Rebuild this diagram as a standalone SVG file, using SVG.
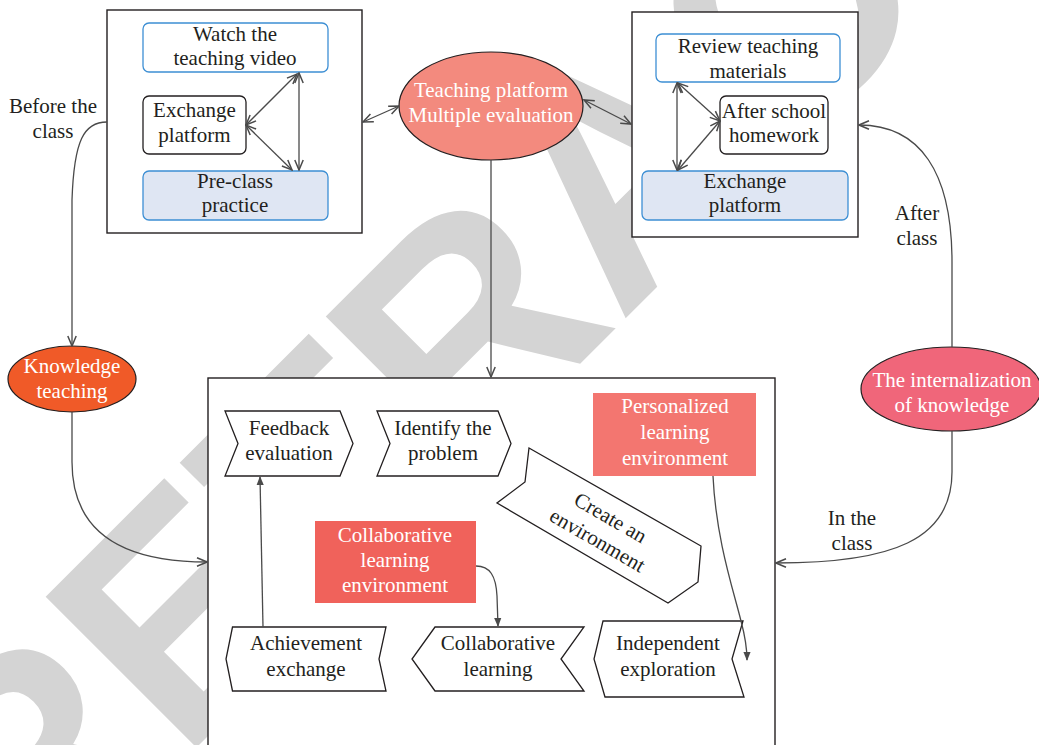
<svg xmlns="http://www.w3.org/2000/svg" width="1039" height="745" viewBox="0 0 1039 745">
  <style>
    .t { font-family: "Liberation Serif", "Times New Roman", serif; font-size: 21px; fill: #231f20; text-anchor: middle; }
    .w { fill: #ffffff; }
    .frame { fill: #ffffff; stroke: #231f20; stroke-width: 1.4; }
    .blue { fill: #ffffff; stroke: #3d8fd4; stroke-width: 1.3; }
    .bluefill { fill: #dfe6f3; stroke: #3d8fd4; stroke-width: 1.3; }
    .plain { fill: #ffffff; stroke: #231f20; stroke-width: 1.3; }
    .chev { fill: #ffffff; stroke: #231f20; stroke-width: 1.3; stroke-linejoin: miter; }
    .edge { fill: none; stroke: #4a4a4a; stroke-width: 1.3; }
    .mark { font-family: "Liberation Sans", Arial, sans-serif; font-weight: bold; font-size: 310px; fill: #d4d4d4; }
  </style>
  <defs>
    <marker id="open" viewBox="0 0 12 12" refX="11" refY="6" markerWidth="12" markerHeight="12" markerUnits="userSpaceOnUse" orient="auto-start-reverse">
      <path d="M1,1.8 L11,6 L1,10.2" fill="none" stroke="#4a4a4a" stroke-width="1.5"/>
    </marker>
    <marker id="solid" viewBox="0 0 10 10" refX="9" refY="5" markerWidth="9" markerHeight="9" markerUnits="userSpaceOnUse" orient="auto">
      <path d="M0,1 L10,5 L0,9 Z" fill="#4a4a4a"/>
    </marker>
  </defs>

  <!-- background stamp -->
  <text class="mark" transform="translate(23.5,920.5) rotate(-45)">RETRACTED</text>

  <!-- pre-class panel -->
  <g id="panel-before">
    <rect class="frame" x="107" y="10" width="255" height="223"/>
  </g>
  <g id="watch-video">
    <rect class="blue" x="143" y="23" width="185" height="49" rx="6"/>
    <text class="t" x="235" y="41">Watch the</text>
    <text class="t" x="235" y="65">teaching video</text>
  </g>
  <g id="exchange-before">
    <rect class="plain" x="143" y="96" width="103" height="58" rx="6"/>
    <text class="t" x="194.5" y="117">Exchange</text>
    <text class="t" x="194.5" y="142">platform</text>
  </g>
  <g id="preclass-practice">
    <rect class="bluefill" x="143" y="171" width="185" height="49" rx="6"/>
    <text class="t" x="235" y="188">Pre-class</text>
    <text class="t" x="235" y="212">practice</text>
  </g>

  <!-- after-class panel -->
  <g id="panel-after">
    <rect class="frame" x="632" y="12" width="226" height="225"/>
  </g>
  <g id="review-materials">
    <rect class="blue" x="656" y="34" width="184" height="48" rx="6"/>
    <text class="t" x="748" y="53">Review teaching</text>
    <text class="t" x="748" y="78">materials</text>
  </g>
  <g id="homework">
    <rect class="plain" x="720" y="96" width="108" height="58" rx="6"/>
    <text class="t" x="774" y="118">After school</text>
    <text class="t" x="774" y="142">homework</text>
  </g>
  <g id="exchange-after">
    <rect class="bluefill" x="642" y="171" width="206" height="49" rx="6"/>
    <text class="t" x="745" y="188">Exchange</text>
    <text class="t" x="745" y="212">platform</text>
  </g>

  <!-- central hub -->
  <g id="platform-evaluation">
    <ellipse cx="491" cy="106" rx="92" ry="54" fill="#f38a7e" stroke="#231f20" stroke-width="1.2"/>
    <text class="t w" x="491" y="97">Teaching platform</text>
    <text class="t w" x="491" y="122">Multiple evaluation</text>
  </g>

  <g id="knowledge-teaching">
    <ellipse cx="72" cy="379" rx="64" ry="33" fill="#f05a28" stroke="#231f20" stroke-width="1.2"/>
    <text class="t w" x="72" y="373">Knowledge</text>
    <text class="t w" x="72" y="398">teaching</text>
  </g>

  <g id="internalization">
    <ellipse cx="951" cy="389" rx="90" ry="42" fill="#f0667a" stroke="#231f20" stroke-width="1.2"/>
    <text class="t w" x="952" y="387">The internalization</text>
    <text class="t w" x="952" y="412">of knowledge</text>
  </g>

  <!-- classroom panel -->
  <g id="panel-class">
    <rect class="frame" x="208" y="378" width="567" height="380"/>
  </g>
  <g id="feedback-evaluation">
    <polygon class="chev" points="225,411 340,411 353,443.5 340,476 225,476 238,443.5"/>
    <text class="t" x="289" y="435">Feedback</text>
    <text class="t" x="289" y="460">evaluation</text>
  </g>
  <g id="identify-problem">
    <polygon class="chev" points="377,411 498,411 511,443.5 498,476 377,476 390,443.5"/>
    <text class="t" x="443" y="435">Identify the</text>
    <text class="t" x="443" y="460">problem</text>
  </g>
  <g id="create-environment">
    <polygon class="chev" points="529,448 701,546 698,582 668,603 497,503 525,482"/>
    <g transform="translate(604,529) rotate(30)">
      <text class="t" x="0" y="-6">Create an</text>
      <text class="t" x="0" y="20">environment</text>
    </g>
  </g>
  <g id="personalized-environment">
    <rect x="593" y="393" width="163" height="83" fill="#f37670"/>
    <text class="t w" x="675" y="413">Personalized</text>
    <text class="t w" x="675" y="439">learning</text>
    <text class="t w" x="675" y="465">environment</text>
  </g>
  <g id="collaborative-environment">
    <rect x="315" y="521" width="161" height="82" fill="#f0625b"/>
    <text class="t w" x="395" y="542">Collaborative</text>
    <text class="t w" x="395" y="567">learning</text>
    <text class="t w" x="395" y="592">environment</text>
  </g>
  <g id="achievement-exchange">
    <polygon class="chev" points="232.5,627 386,627 379,659 386,691 232.5,691 226,659"/>
    <text class="t" x="306" y="650">Achievement</text>
    <text class="t" x="306" y="676">exchange</text>
  </g>
  <g id="collaborative-learning">
    <polygon class="chev" points="435,627 584,627 561,659 584,691 435,691 412,659"/>
    <text class="t" x="498" y="650">Collaborative</text>
    <text class="t" x="498" y="676">learning</text>
  </g>
  <g id="independent-exploration">
    <polygon class="chev" points="603,621 743,621 732,659 744,697 605,697 594,659"/>
    <text class="t" x="668" y="650">Independent</text>
    <text class="t" x="668" y="676">exploration</text>
  </g>

  <!-- phase labels -->
  <g id="labels">
    <text class="t" x="53" y="113">Before the</text>
    <text class="t" x="53" y="138">class</text>
    <text class="t" x="917" y="220">After</text>
    <text class="t" x="917" y="245">class</text>
    <text class="t" x="852" y="525">In the</text>
    <text class="t" x="852" y="550">class</text>
  </g>

  <!-- connectors -->
  <g id="connectors">
    <path class="edge" d="M246,125 L297,74" marker-start="url(#open)" marker-end="url(#open)"/>
    <path class="edge" d="M246,125 L292,170" marker-start="url(#open)" marker-end="url(#open)"/>
    <path class="edge" d="M299,73 L299,170" marker-start="url(#open)" marker-end="url(#open)"/>
    <path class="edge" d="M677,83 L677,170" marker-start="url(#open)" marker-end="url(#open)"/>
    <path class="edge" d="M678,83 L720,121" marker-start="url(#open)" marker-end="url(#open)"/>
    <path class="edge" d="M720,121 L678,170" marker-start="url(#open)" marker-end="url(#open)"/>
    <path class="edge" d="M363,122 L399,106" marker-start="url(#open)" marker-end="url(#open)"/>
    <path class="edge" d="M584,100 L631,124" marker-start="url(#open)" marker-end="url(#open)"/>
    <path class="edge" d="M491,160 L491,377" marker-end="url(#open)"/>
    <path class="edge" d="M107,122 C84,122 74,140 72,200 L72,346" marker-end="url(#open)"/>
    <path class="edge" d="M72,412 L72,462 C72,530 118,562 207,562" marker-end="url(#open)"/>
    <path class="edge" d="M952,347 L952,262 C952,172 920,125 859,125" marker-end="url(#open)"/>
    <path class="edge" d="M952,431 L952,472 C952,540 892,563 776,563" marker-end="url(#open)"/>
    <path class="edge" d="M263,627 L260,477" marker-end="url(#solid)"/>
    <path class="edge" d="M476,566 C490,566 496,576 497,596 L498,626" marker-end="url(#solid)"/>
    <path class="edge" d="M713,476 C716,540 734,592 741,621 C745,636 747,646 747,660" marker-end="url(#solid)"/>
  </g>
</svg>
